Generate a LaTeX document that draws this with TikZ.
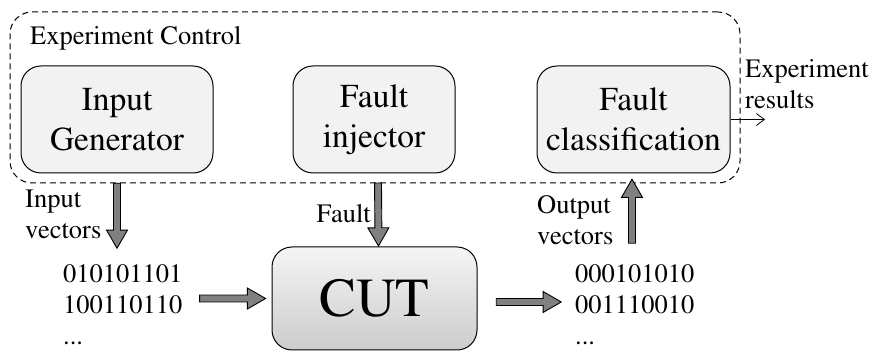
\documentclass[tikz,border=0pt]{standalone}
\usepackage[T1]{fontenc}
\usepackage{mathptmx}
\usetikzlibrary{shapes.arrows,arrows.meta,positioning,calc}

\newcommand{\smalltxt}{\fontsize{26.5}{31}\selectfont}
\newcommand{\boxtxt}{\fontsize{33.5}{40}\selectfont}

\begin{document}
\begin{tikzpicture}[
    x=1pt, y=-1pt,
    unit/.style={draw, line width=1pt, rounded corners=20pt, fill=gray!10, minimum height=107pt, align=center, font=\boxtxt, inner sep=0pt},
    lbl/.style={align=left, inner sep=0pt, font=\smalltxt},
    fat/.style={single arrow, draw, fill=gray, minimum height=#1, minimum width=21pt, single arrow head extend=7pt, single arrow tip angle=60, inner sep=3pt, line width=0.9pt, midway, sloped, allow upside down},
    thinarrow/.style={-{Straight Barb[length=8pt,width=12pt]}, line width=0.8pt}
]
\useasboundingbox (0,0) rectangle (876,352);

% Experiment control
\node[draw, dash pattern=on 6pt off 4pt, line width=1pt, rounded corners=22pt, minimum width=730pt, minimum height=171pt] (ctrl) at (375,97.5) {};
\node[lbl, anchor=base west] (ctrltxt) at (30,45) {Experiment Control};

\node[unit, minimum width=192pt] (ig) at (117,119.5) {Input\\Generator};
\node[unit, minimum width=162pt] (fi) at (374,119.5) {Fault\\injector};
\node[unit, minimum width=193pt] (fc) at (633.5,119.5) {Fault\\classification};

% Circuit under test
\node[draw, line width=1pt, rounded corners=20pt, top color=gray!8, bottom color=gray!40, minimum width=205pt, minimum height=103pt, font=\fontsize{55}{60}\selectfont] (cut) at (374.5,298.5) {CUT};

% Vectors
\node[lbl, anchor=north west] (inbits) at (63,264) {010101101\\100110110\\...};
\node[lbl, anchor=north west] (outbits) at (575,264) {000101010\\001110010\\...};

% Labels
\node[lbl, anchor=north west] (invec) at (25,190) {Input\\vectors};
\node[lbl, anchor=base east] (fltlbl) at (371,223) {Fault};
\node[lbl, anchor=north west] (outvec) at (537,195) {Output\\vectors};
\node[lbl, anchor=north west] (reslbl) at (745,59) {Experiment\\results};

% Block arrows
\path ([yshift=-7pt]ig.south) -- ([yshift=19pt]ig.south |- inbits.north) node[fat=65pt] {};
\path ([xshift=4pt,yshift=-7pt]fi.south) -- ([xshift=4pt,yshift=4pt]cut.north) node[fat=63pt] {};
\path ([xshift=-1.5pt,yshift=18pt]fc.south |- outbits.north) -- ([xshift=-1.5pt,yshift=-9pt]fc.south) node[fat=64pt] {};
\path ([xshift=14pt]inbits.east |- cut.west) -- ([xshift=-9pt]cut.west) node[fat=66pt] {};
\path ([xshift=16pt,yshift=-3.5pt]cut.east) -- ([xshift=-17pt,yshift=-3.5pt]outbits.west |- cut.east) node[fat=65pt] {};

% Results
\coordinate (resend) at (765,119.5);
\draw[thinarrow] (fc.east) -- (resend);

\end{tikzpicture}
\end{document}
